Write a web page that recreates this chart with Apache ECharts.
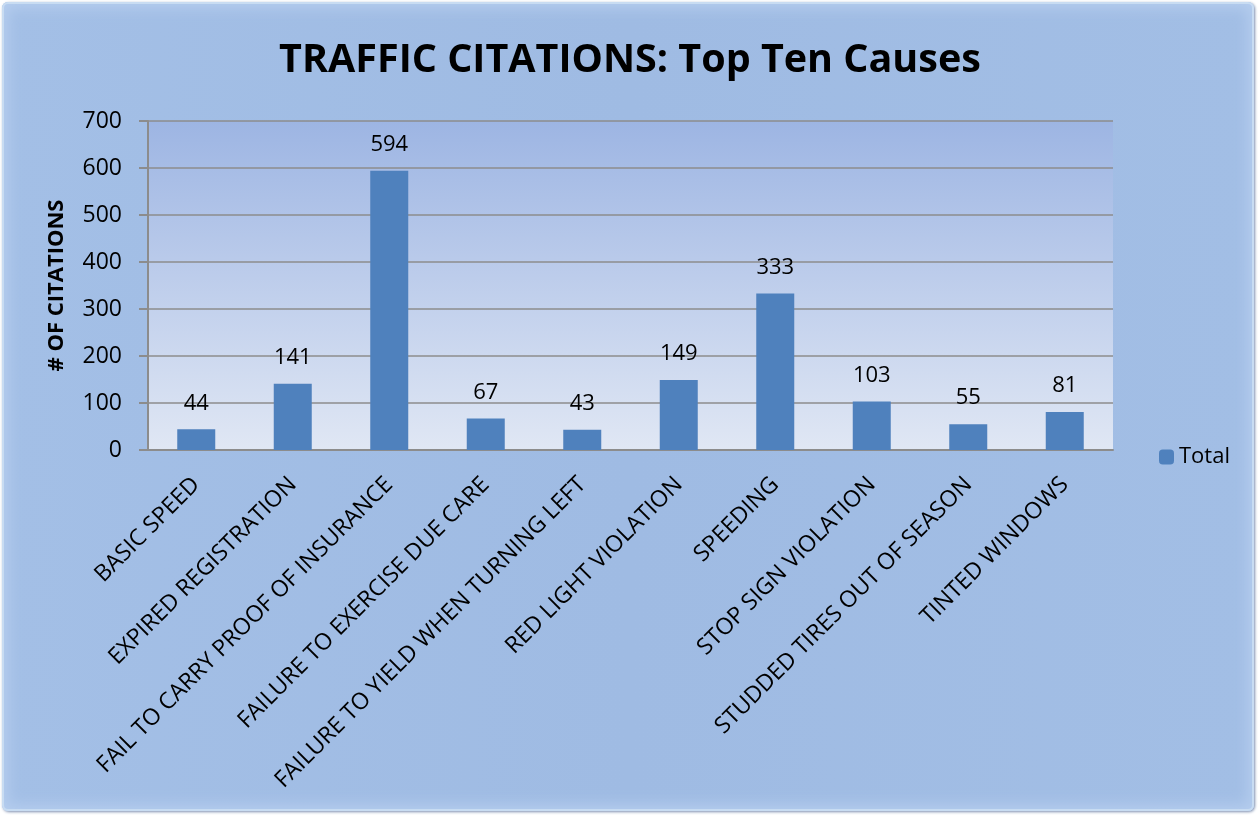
<!DOCTYPE html>
<html>
<head>
<meta charset="utf-8">
<script src="https://cdn.jsdelivr.net/npm/echarts@6/dist/echarts.min.js"></script>
<style>
  html, body { margin: 0; padding: 0; background: #ffffff; }
  #wrap {
    position: absolute; left: 2px; top: 2px; width: 1252px; height: 809px;
    border-radius: 6px;
    background: linear-gradient(90deg, #a3bfe6 0%, #9fbbe3 50%, #a2bee5 100%);
    box-shadow: inset 0 0 0 2px #c8dcf2, inset 0 0 14px 6px #b5cdee, 1px 1px 3px #7d8fb0;
  }
  #main { position: absolute; left: -2px; top: -2px; width: 1260px; height: 817px; }
</style>
</head>
<body>
<div id="wrap"><div id="main"></div></div>
<script>
var causes = ['BASIC SPEED', 'EXPIRED REGISTRATION', 'FAIL TO CARRY PROOF OF INSURANCE',
  'FAILURE TO EXERCISE DUE CARE', 'FAILURE TO YIELD WHEN TURNING LEFT', 'RED LIGHT VIOLATION',
  'SPEEDING', 'STOP SIGN VIOLATION', 'STUDDED TIRES OUT OF SEASON', 'TINTED WINDOWS'];
var totals = [44, 141, 594, 67, 43, 149, 333, 103, 55, 81];

var myChart = echarts.init(document.getElementById('main'));
var font = '"Open Sans", "DejaVu Sans", sans-serif';

var opt = {
    backgroundColor: 'transparent',
    title: {
        text: 'TRAFFIC CITATIONS: Top Ten Causes',
        left: 'center',
        top: 36,
        textStyle: { fontFamily: font, fontSize: 39.5, fontWeight: 'bold', color: '#000' }
    },
    legend: {
        data: ['Total'],
        orient: 'vertical',
        left: 1154,
        top: 441,
        itemWidth: 15,
        itemHeight: 15,
        itemGap: 6,
        textStyle: { fontFamily: font, fontSize: 22, color: '#000' }
    },
    grid: {
        left: 148, right: 147, top: 121, bottom: 367,
        show: true,
        borderWidth: 0,
        // 绘图区渐变背景
        backgroundColor: new echarts.graphic.LinearGradient(0, 0, 0, 1, [
            { offset: 0, color: '#9db5e3' },
            { offset: 1, color: '#e0e7f4' }
        ])
    },
    xAxis: {
        type: 'category',
        data: causes,
        axisLine: { lineStyle: { color: '#8c8c8c', width: 2 } },
        axisTick: { show: false },
        axisLabel: {
            interval: 0,
            rotate: 45,
            margin: 31,
            fontFamily: font,
            fontSize: 23,
            color: '#000'
        }
    },
    yAxis: {
        type: 'value',
        min: 0,
        max: 700,
        interval: 100,
        name: '# OF CITATIONS',
        nameLocation: 'middle',
        nameGap: 80,
        nameTextStyle: { fontFamily: font, fontSize: 22, fontWeight: 'bold', color: '#000' },
        axisLine: { show: true, lineStyle: { color: '#8c8c8c', width: 2 } },
        axisTick: { show: true, length: 9, lineStyle: { color: '#8c8c8c', width: 2 } },
        axisLabel: { fontFamily: font, fontSize: 23, color: '#000', margin: 26 },
        splitLine: { lineStyle: { color: '#8c8c8c', width: 1.5 } }
    },
    series: [{
        name: 'Total',
        type: 'bar',
        data: totals,
        barWidth: 38,
        itemStyle: { color: '#4f81bd' },
        label: {
            show: true,
            position: 'top',
            distance: 15,
            fontFamily: font,
            fontSize: 22,
            color: '#000'
        }
    }]
};
myChart.setOption(opt);
</script>
</body>
</html>
